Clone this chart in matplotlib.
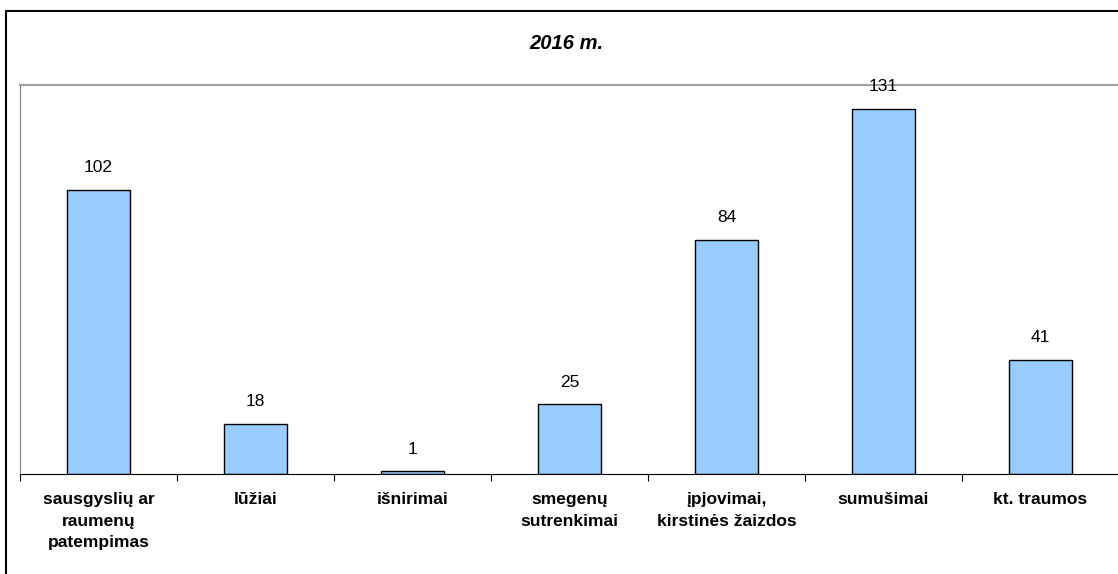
import matplotlib.pyplot as plt
from matplotlib.patches import Rectangle

plt.rcParams['font.family'] = ['Liberation Sans', 'DejaVu Sans']

categories = ["sausgyslių ar\nraumenų\npatempimas", "lūžiai", "išnirimai",
              "smegenų\nsutrenkimai", "įpjovimai,\nkirstinės žaizdos",
              "sumušimai", "kt. traumos"]
values = [102, 18, 1, 25, 84, 131, 41]
title = "2016 m."

W, H = 1118, 574
fig = plt.figure(figsize=(W / 100, H / 100), dpi=100)

# outer chart frame (runs off the right/bottom edge like the source)
fig.patches.append(Rectangle((6 / W, -0.05), 1.2, (H - 11) / H + 0.05,
                             transform=fig.transFigure, fill=False,
                             edgecolor='black', linewidth=1.5))

ax = fig.add_axes([20 / W, 100 / H, 1099 / W, 389 / H])
x = list(range(len(values)))
ax.bar(x, values, width=0.4, color='#99CCFF', edgecolor='black', linewidth=1)
ax.set_xlim(-0.5, len(values) - 0.5)
ax.set_ylim(0, 139.5)

for xi, v in zip(x, values):
    ax.annotate(str(v), (xi, v), xytext=(0, 10.5), textcoords='offset points',
                ha='center', va='bottom', fontsize=12.5)

ax.set_xticks([i - 0.5 for i in range(len(values) + 1)])
ax.set_xticklabels([])
ax.set_xticks(x, minor=True)
ax.set_xticklabels(categories, minor=True, fontsize=12.5, fontweight='bold',
                   linespacing=1.55)
ax.tick_params(axis='x', which='major', length=5, color='black')
ax.tick_params(axis='x', which='minor', length=0, pad=13)
ax.set_yticks([])

ax.spines['left'].set_color('#808080')
ax.spines['top'].set_color('#a0a0a0')
ax.spines['top'].set_linewidth(1.5)
ax.spines['right'].set_visible(False)
ax.spines['bottom'].set_color('black')

fig.text(566 / W, 1 - 49 / H, title, ha='center', va='baseline',
         fontsize=14.5, fontweight='bold', fontstyle='italic')

fig.savefig('out.png', dpi=100)
